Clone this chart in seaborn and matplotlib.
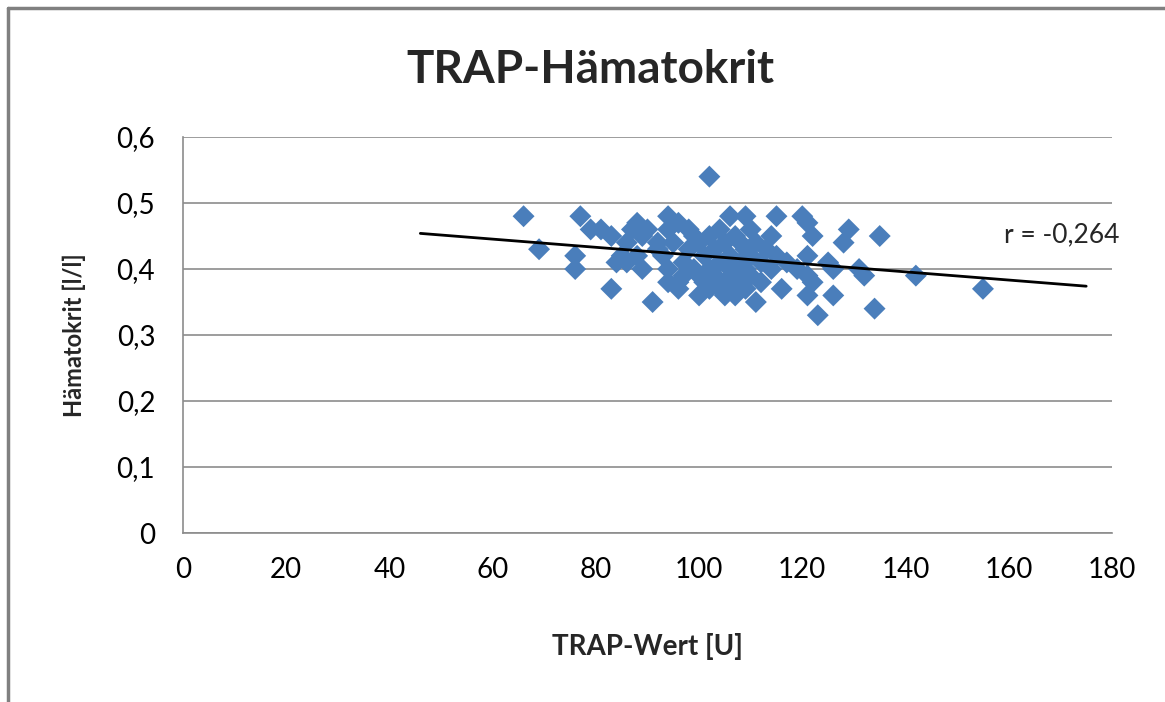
import matplotlib
matplotlib.use("Agg")
import matplotlib.pyplot as plt
from matplotlib.lines import Line2D
import seaborn as sns
import pandas as pd

# TRAP value [U] vs. haematocrit [l/l]
trap_wert = [66, 69, 76, 76, 77, 79, 81, 83, 83, 84, 85, 86, 86, 87, 88, 88, 89, 89, 90, 91,
             92, 92, 93, 94, 94, 94, 94, 95, 96, 96, 96, 97, 97, 98, 98, 99, 99, 100, 100, 100,
             101, 101, 102, 102, 102, 102, 103, 103, 104, 104, 104, 105, 105, 105, 106, 106, 106, 106, 107, 107,
             107, 108, 108, 108, 109, 109, 109, 109, 110, 110, 110, 111, 111, 112, 112, 113, 114, 114, 115, 115,
             116, 117, 119, 120, 121, 121, 121, 121, 122, 122, 123, 125, 126, 126, 128, 129, 131, 132, 134, 135,
             142, 155]
haematokrit = [0.48, 0.43, 0.42, 0.40, 0.48, 0.46, 0.46, 0.45, 0.37, 0.41, 0.42, 0.41, 0.44, 0.46, 0.47, 0.42, 0.40, 0.45, 0.46, 0.35,
               0.44, 0.43, 0.42, 0.48, 0.46, 0.40, 0.38, 0.44, 0.47, 0.38, 0.37, 0.41, 0.39, 0.46, 0.43, 0.40, 0.45, 0.44, 0.39, 0.36,
               0.42, 0.38, 0.54, 0.45, 0.40, 0.37, 0.43, 0.39, 0.46, 0.41, 0.37, 0.44, 0.38, 0.36, 0.48, 0.42, 0.40, 0.37, 0.45, 0.39,
               0.36, 0.44, 0.41, 0.38, 0.48, 0.43, 0.40, 0.37, 0.46, 0.42, 0.39, 0.35, 0.44, 0.41, 0.38, 0.43, 0.40, 0.45, 0.48, 0.42,
               0.37, 0.41, 0.40, 0.48, 0.47, 0.42, 0.39, 0.36, 0.45, 0.38, 0.33, 0.41, 0.36, 0.40, 0.44, 0.46, 0.40, 0.39, 0.34, 0.45,
               0.39, 0.37]

# linear trend line as drawn (extended beyond the data)
trend_x = [46, 175]
trend_y = [0.454, 0.374]
r_text = "r = -0,264"

x_ticks = [0, 20, 40, 60, 80, 100, 120, 140, 160, 180]
y_ticks = [0, 0.1, 0.2, 0.3, 0.4, 0.5, 0.6]
y_tick_labels = ["0", "0,1", "0,2", "0,3", "0,4", "0,5", "0,6"]

df = pd.DataFrame({"x": trap_wert, "y": haematokrit})
trend = pd.DataFrame({"x": trend_x, "y": trend_y})

sns.set_style("white")
plt.rcParams["font.family"] = ["Lato", "DejaVu Sans"]

fig = plt.figure(figsize=(11.65, 7.02), dpi=100)
ax = fig.add_axes([0.157, 0.2407, 0.7975, 0.5641])

sns.scatterplot(data=df, x="x", y="y", marker="D", s=125, color="#4A7EBB",
                edgecolor="none", ax=ax, zorder=3)
sns.lineplot(data=trend, x="x", y="y", color="black", linewidth=2, ax=ax, zorder=4)

ax.set_xlim(0, 180)
ax.set_ylim(0, 0.6)
ax.set_xticks(x_ticks)
ax.set_xticklabels([str(t) for t in x_ticks])
ax.set_yticks(y_ticks)
ax.set_yticklabels(y_tick_labels)
ax.tick_params(axis="both", length=0, labelsize=20, colors="black")
ax.tick_params(axis="y", pad=20)
ax.tick_params(axis="x", pad=17)
ax.grid(True, axis="y", color="#8c8c8c", linewidth=1.2)
ax.set_axisbelow(True)

for side in ["top", "right"]:
    ax.spines[side].set_visible(False)
for side in ["left", "bottom"]:
    ax.spines[side].set_color("#8c8c8c")
    ax.spines[side].set_linewidth(1.2)

ax.set_xlabel("TRAP-Wert [U]", fontsize=20, fontweight="bold", labelpad=36)
ax.set_ylabel("Hämatokrit [l/l]", fontsize=17, fontweight="bold", labelpad=22)

ax.text(159, 0.452, r_text, fontsize=19, va="center", ha="left")

fig.text(590 / 1165, 1 - 70 / 702, "TRAP-Hämatokrit", fontsize=33, fontweight="bold",
         ha="center", va="center")

# outer chart frame (left and top edge visible in the reference)
fig.add_artist(Line2D([8 / 1165, 8 / 1165], [0, 1 - 8 / 702], transform=fig.transFigure,
                      color="#808080", linewidth=2.5))
fig.add_artist(Line2D([8 / 1165, 1], [1 - 8 / 702, 1 - 8 / 702], transform=fig.transFigure,
                      color="#808080", linewidth=2.5))

fig.savefig("out.png", dpi=100)
plt.close(fig)
